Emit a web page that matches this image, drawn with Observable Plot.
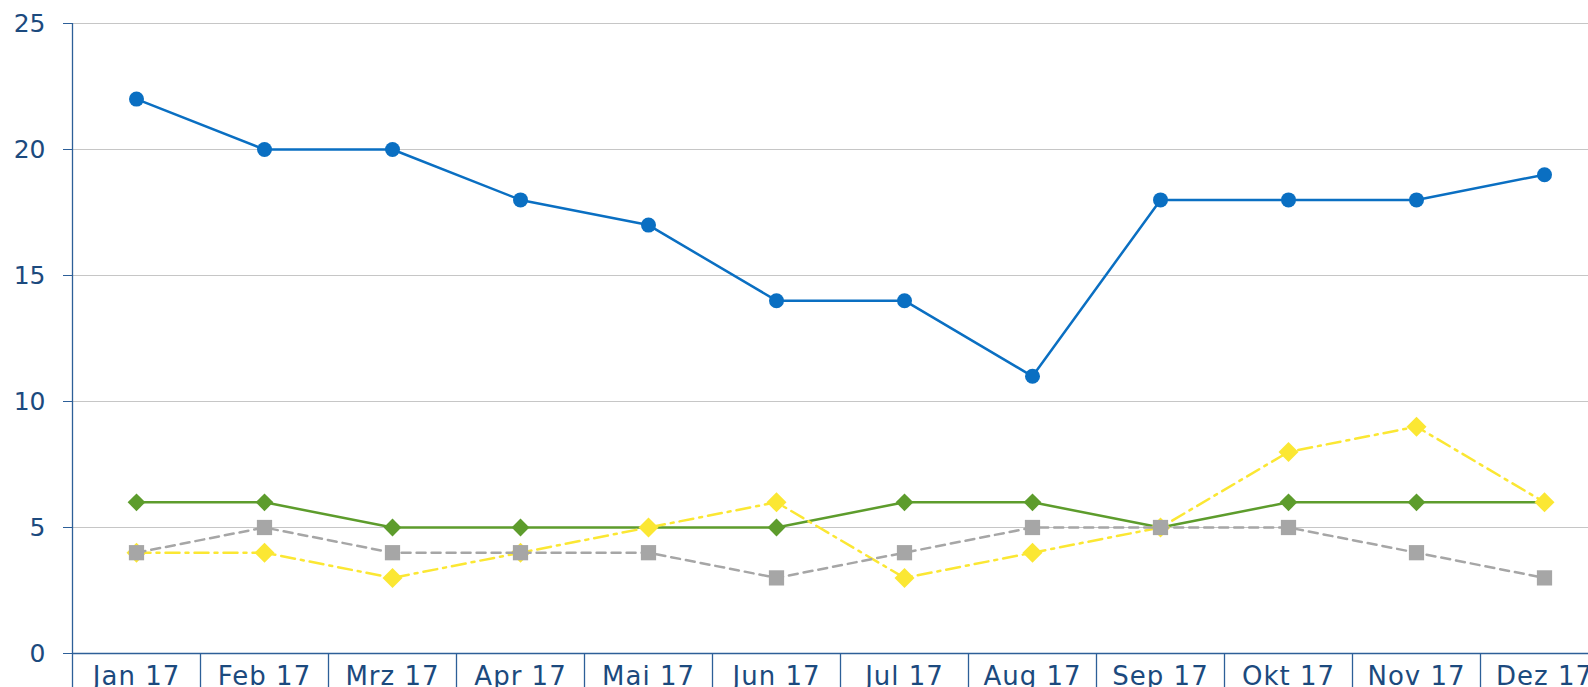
<!DOCTYPE html>
<html>
<head>
<meta charset="utf-8">
<script src="https://cdn.jsdelivr.net/npm/d3@7"></script>
<script src="https://cdn.jsdelivr.net/npm/@observablehq/plot@0.6"></script>
<style>
  html, body { margin: 0; padding: 0; background: #fff; overflow: hidden; }
  #chart svg { display: block; }
  #chart svg g.xlab text { letter-spacing: 1px; }
</style>
</head>
<body>
<div id="chart"></div>
<script>
const months = ["Jan 17","Feb 17","Mrz 17","Apr 17","Mai 17","Jun 17","Jul 17","Aug 17","Sep 17","Okt 17","Nov 17","Dez 17"];
const blueValues   = [22,20,20,18,17,14,14,11,18,18,18,19];
const greenValues  = [6,6,5,5,5,5,6,6,5,6,6,6];
const yellowValues = [4,4,3,4,5,6,3,4,5,8,9,6];
const grayValues   = [4,5,4,4,4,3,4,5,5,5,4,3];
const yTicks = [0,5,10,15,20,25];

const toRows = (vals) => months.map((m, i) => ({month: m, value: vals[i]}));
const blue = toRows(blueValues), green = toRows(greenValues),
      yellow = toRows(yellowValues), gray = toRows(grayValues);

const axisColor = "#2d5f98";
const textColor = "#1c4a7e";
const font = "DejaVu Sans, Verdana, sans-serif";

const chart = Plot.plot({
  width: 1588,
  height: 687,
  marginLeft: 72,
  marginRight: 0,
  marginTop: 23,
  marginBottom: 34,
  style: {fontFamily: font, fontSize: "25px", background: "#fff", overflow: "hidden"},
  x: {type: "point", domain: months, range: [72, 1608], padding: 0.5, axis: null, label: null},
  y: {domain: [0, 25], axis: null, label: null},
  marks: [
    Plot.gridY(yTicks.filter(d => d > 0), {stroke: "#c6c6c6", strokeOpacity: 1, strokeWidth: 1}),
    Plot.axisY(yTicks, {label: null, tickSize: 9, tickPadding: 18, stroke: axisColor, fill: textColor, fontSize: 25, fontFamily: font}),
    Plot.ruleY([0], {stroke: axisColor, strokeWidth: 1.3}),
    // y axis line, extending below the x axis
    Plot.ruleX([months[0]], {dx: -64, insetBottom: -34, stroke: axisColor, strokeWidth: 1.3}),
    // category separators below the x axis
    Plot.ruleX(months.slice(1), {dx: -64, insetTop: 630, insetBottom: -34, stroke: axisColor, strokeWidth: 1.3}),
    Plot.axisX(months, {label: null, className: "xlab", tickSize: 0, tickPadding: 13, fill: textColor, fontSize: 26, fontFamily: font}),

    Plot.line(green, {x: "month", y: "value", stroke: "#5d9c2c", strokeWidth: 2.5}),
    Plot.dot(green, {x: "month", y: "value", symbol: "diamond2", r: 8, fill: "#5d9c2c", stroke: null}),

    Plot.line(yellow, {x: "month", y: "value", stroke: "#fbe733", strokeWidth: 2.5, strokeDasharray: "14,6,3,6"}),
    Plot.dot(yellow, {x: "month", y: "value", symbol: "diamond2", r: 9, fill: "#fbe733", stroke: null}),

    Plot.line(gray, {x: "month", y: "value", stroke: "#a6a6a6", strokeWidth: 2.5, strokeDasharray: "9,6"}),
    Plot.dot(gray, {x: "month", y: "value", symbol: "square", r: 8.6, fill: "#a6a6a6", stroke: null}),

    Plot.line(blue, {x: "month", y: "value", stroke: "#0a6fc2", strokeWidth: 2.5}),
    Plot.dot(blue, {x: "month", y: "value", r: 7.5, fill: "#0a6fc2", stroke: null})
  ]
});
document.getElementById("chart").appendChild(chart);
</script>
</body>
</html>
